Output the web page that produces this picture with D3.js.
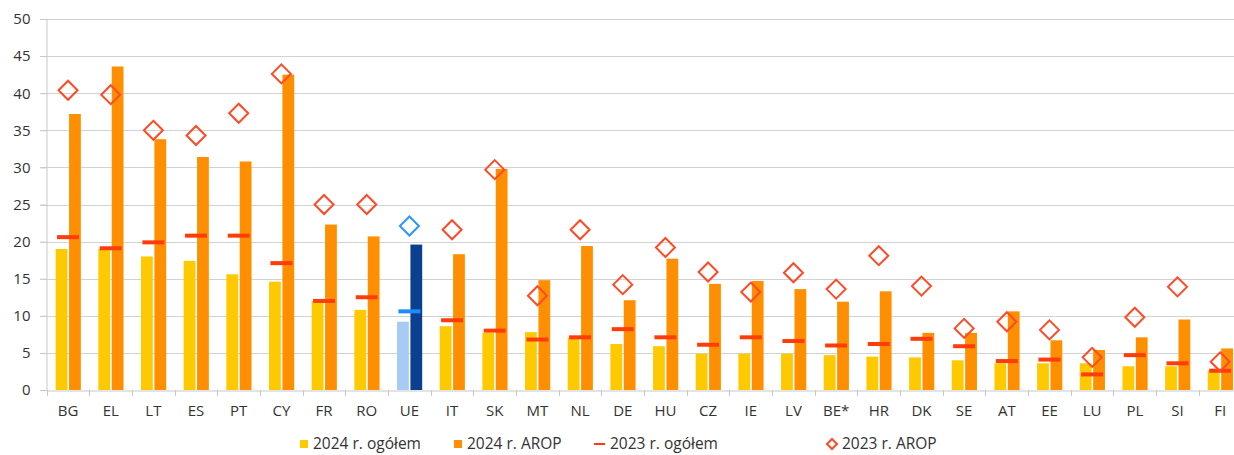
<!DOCTYPE html>
<html lang="pl">
<head>
  <meta charset="UTF-8" />
  <title>AROP 2023-2024</title>
  <script src="https://d3js.org/d3.v7.min.js"></script>
  <style>
    html, body { margin: 0; padding: 0; background: #fff; }
    svg { display: block; font-family: "Open Sans", sans-serif; }
  </style>
</head>
<body>
<svg width="1234" height="455"></svg>
<script>
  // data
  const countries = ["BG","EL","LT","ES","PT","CY","FR","RO","UE","IT","SK","MT","NL","DE","HU","CZ","IE","LV","BE*","HR","DK","SE","AT","EE","LU","PL","SI","FI"];
  const total2024 = [19.0,19.0,18.0,17.4,15.6,14.6,12.0,10.8,9.2,8.6,7.7,7.8,7.0,6.2,5.9,4.9,4.9,4.9,4.7,4.5,4.4,4.0,3.6,3.6,3.6,3.2,3.2,2.6];
  const arop2024 = [37.2,43.6,33.8,31.4,30.8,42.5,22.3,20.7,19.6,18.3,29.8,14.8,19.4,12.1,17.7,14.3,14.7,13.6,11.9,13.3,7.7,7.7,10.6,6.7,5.4,7.1,9.5,5.6];
  const total2023 = [20.6,19.1,19.9,20.8,20.8,17.1,12.0,12.5,10.6,9.4,8.0,6.8,7.1,8.2,7.1,6.1,7.1,6.6,6.0,6.2,6.9,5.9,3.9,4.1,2.1,4.7,3.6,2.6];
  const arop2023 = [40.4,39.8,35.0,34.3,37.3,42.6,25.0,25.0,22.1,21.6,29.7,12.7,21.6,14.2,19.2,15.9,13.2,15.8,13.6,18.1,14.0,8.3,9.2,8.1,4.4,9.8,13.9,3.8];
  const yTicks = [0,5,10,15,20,25,30,35,40,45,50];
  const legendLabels = ["2024 r. ogółem","2024 r. AROP","2023 r. ogółem","2023 r. AROP"];

  const rows = countries.map((c, i) => ({
    c, t24: total2024[i], a24: arop2024[i], t23: total2023[i], a23: arop2023[i]
  }));

  const col = {
    t24: "#FFC900", a24: "#FF8F00", t23: "#FF3C0A", a23: "#FF4A26",
    t24eu: "#A6CBF5", a24eu: "#0B3F8F", t23eu: "#1E8CFF", a23eu: "#2F95FF"
  };
  const textCol = "#333333";

  const svg = d3.select("svg");
  const x0 = d3.scaleBand().domain(countries).range([46.7, 1241.5]).padding(0);
  const bw = x0.bandwidth();
  const x1 = d3.scaleBand().domain(["t24","a24"]).range([bw * 0.21, bw * 0.80]).paddingInner(0.12);
  const y = d3.scaleLinear().domain([0, 50]).range([390, 19]);

  // grid
  svg.append("g").selectAll("line").data(yTicks.filter(d => d > 0)).join("line")
    .attr("x1", 40).attr("x2", 1234)
    .attr("y1", d => Math.round(y(d)) + 0.5).attr("y2", d => Math.round(y(d)) + 0.5)
    .attr("stroke", "#d2d2d2").attr("stroke-width", 1);

  // y axis
  const yAxis = svg.append("g").attr("transform", "translate(46.5,0)")
    .call(d3.axisLeft(y).tickValues(yTicks).tickSize(6).tickPadding(10));
  yAxis.select(".domain").attr("stroke", "#c8c8c8");
  yAxis.selectAll(".tick line").attr("stroke", "#c8c8c8");
  yAxis.selectAll(".tick text").attr("fill", textCol)
    .style("font-size", "15px").style("font-family", "Open Sans, sans-serif");

  // x axis
  const xAxis = svg.append("g").attr("transform", "translate(0,390.5)")
    .call(d3.axisBottom(x0).tickSize(0).tickPadding(15));
  xAxis.select(".domain").attr("stroke", "#c8c8c8");
  xAxis.selectAll(".tick text").attr("fill", textCol)
    .style("font-size", "15px").style("font-family", "Open Sans, sans-serif");
  svg.append("g").selectAll("line").data(countries).join("line")
    .attr("x1", d => Math.round(x0(d)) + 0.5).attr("x2", d => Math.round(x0(d)) + 0.5)
    .attr("y1", 390).attr("y2", 396).attr("stroke", "#c8c8c8");

  const groups = svg.append("g").selectAll("g").data(rows).join("g")
    .attr("transform", d => `translate(${x0(d.c)},0)`);

  groups.append("rect")
    .attr("x", x1("t24")).attr("width", x1.bandwidth())
    .attr("y", d => y(d.t24)).attr("height", d => y(0) - y(d.t24))
    .attr("fill", d => d.c === "UE" ? col.t24eu : col.t24);

  groups.append("rect")
    .attr("x", x1("a24")).attr("width", x1.bandwidth())
    .attr("y", d => y(d.a24)).attr("height", d => y(0) - y(d.a24))
    .attr("fill", d => d.c === "UE" ? col.a24eu : col.a24);

  groups.append("line")
    .attr("x1", bw / 2 - 11).attr("x2", bw / 2 + 11)
    .attr("y1", d => y(d.t23)).attr("y2", d => y(d.t23))
    .attr("stroke", d => d.c === "UE" ? col.t23eu : col.t23).attr("stroke-width", 4);

  const dia = 9.5;
  groups.append("path")
    .attr("d", d => `M${bw / 2},${y(d.a23) - dia}L${bw / 2 + dia},${y(d.a23)}L${bw / 2},${y(d.a23) + dia}L${bw / 2 - dia},${y(d.a23)}Z`)
    .attr("fill", "none")
    .attr("stroke", d => d.c === "UE" ? col.a23eu : col.a23).attr("stroke-width", 2);

  // legend
  const lg = svg.append("g").style("font-size", "15.5px").attr("fill", textCol);
  const lx = [300, 454, 594, 827];
  const ly = 444;
  lg.append("rect").attr("x", lx[0]).attr("y", ly - 4).attr("width", 8).attr("height", 8).attr("fill", col.t24);
  lg.append("rect").attr("x", lx[1]).attr("y", ly - 4).attr("width", 8).attr("height", 8).attr("fill", col.a24);
  lg.append("line").attr("x1", lx[2]).attr("x2", lx[2] + 11).attr("y1", ly).attr("y2", ly)
    .attr("stroke", col.t23).attr("stroke-width", 2);
  lg.append("path").attr("d", `M${lx[3] + 5},${ly - 5}L${lx[3] + 10},${ly}L${lx[3] + 5},${ly + 5}L${lx[3]},${ly}Z`)
    .attr("fill", "none").attr("stroke", col.a23).attr("stroke-width", 2);
  const textX = [313, 467, 610, 842];
  lg.selectAll("text").data(legendLabels).join("text")
    .attr("x", (d, i) => textX[i]).attr("y", ly).attr("dy", "0.35em").text(d => d);
</script>
</body>
</html>
